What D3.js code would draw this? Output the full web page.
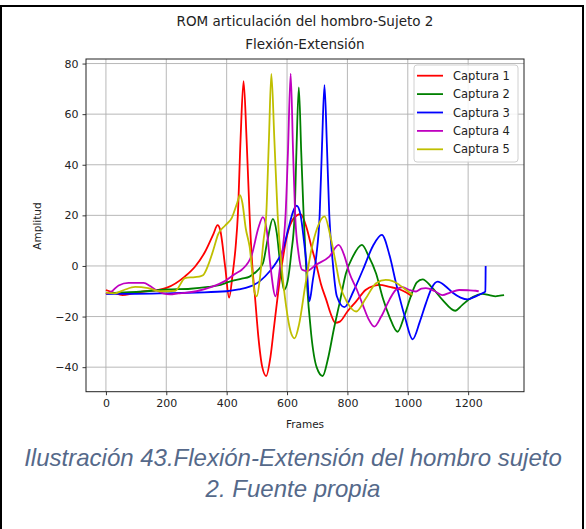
<!DOCTYPE html>
<html>
<head>
<meta charset="utf-8">
<script src="https://cdn.jsdelivr.net/npm/d3@7"></script>
<style>
  html, body { margin: 0; padding: 0; background: #ffffff; }
  svg { display: block; }
</style>
</head>
<body>
<svg id="chart" width="586" height="529"></svg>
<script>
// Shoulder flexion-extension ROM, subject 2: five captures, [frame, amplitude]
const captura1 = [[0,-9.5],[25,-10.5],[55,-11.5],[90,-10.8],[130,-10],[170,-9.5],[200,-8.7],[262,-4.1],[295,-0.3],[328,5.5],[356,12.6],[370,16.1],[378,14.5],[395,-0.3],[408,-12.5],[420,-3],[430,8],[437,20],[446,50],[456,73],[466,50],[476,20],[485,0],[493,-11],[505,-28],[518,-40],[531,-43.5],[545,-36],[557,-24],[570,-11],[585,2],[600,12],[620,18.5],[645,20.5],[665,15],[680,8],[696,1],[712,-7],[730,-13.4],[745,-19],[760,-22.5],[775,-22],[800,-18],[829,-14],[860,-9.5],[890,-7.8],[906,-7.5],[940,-8.3],[972,-9.2],[995,-10.5],[1014,-12]];
const captura2 = [[0,-11],[50,-10.5],[100,-10.3],[202,-9.3],[280,-9],[339,-8.3],[380,-7.5],[410,-6.2],[450,-5],[476,-4.2],[500,-2],[520,1],[535,10],[553,18.6],[566,13],[578,0],[590,-9.5],[602,-6],[614,5],[625,20],[631,45],[639,70.6],[647,45],[655,20],[665,-5],[680,-27],[698,-40],[718,-43.5],[735,-37],[755,-25],[774,-14.7],[795,-3],[818,3.7],[848,8.3],[870,4],[895,-3],[918,-13],[939,-20],[966,-26],[988,-20],[1010,-12],[1030,-6.5],[1049,-5.3],[1080,-8.5],[1115,-13.4],[1157,-17.7],[1180,-15.5],[1203,-13.2],[1230,-11.5],[1247,-11],[1270,-11.5],[1291,-12],[1305,-11.7],[1319,-11.5]];
const captura3 = [[0,-11],[100,-11],[200,-10.8],[300,-10.5],[400,-10],[440,-9.3],[476,-8.2],[510,-6],[542,-2.2],[565,1.5],[586,6.3],[605,15],[620,21.5],[632,23.8],[645,20],[656,10],[665,0],[674,-14],[685,-6],[697,4],[708,20],[716,48],[724,71.5],[732,48],[740,20],[751,2],[765,-12],[790,-16.3],[820,-10],[851,-1.6],[885,8],[914,12.3],[940,4],[961,-6.8],[990,-20],[1016,-29],[1040,-22],[1060,-14.8],[1080,-8.5],[1099,-6.2],[1125,-8],[1148,-10.5],[1175,-12.5],[1198,-13.2],[1225,-12],[1247,-10.8],[1257,-10.1],[1258,0]];
const captura4 = [[0,-11],[20,-10],[42,-7.7],[75,-6.7],[125,-6.7],[145,-7.8],[163,-9.3],[190,-10.8],[213,-11.2],[240,-10.8],[262,-10.6],[300,-10],[350,-8.3],[394,-6],[430,-3],[450,-1.5],[483,4.3],[505,15],[520,19.3],[533,14],[545,0],[562,-12],[575,-2],[595,20],[603,45],[612,76],[620,45],[627,20],[638,5],[650,-1.5],[665,-2],[696,0.5],[740,3.7],[771,8.3],[790,4],[807,-2.9],[830,-9],[851,-15.4],[870,-21],[889,-24],[912,-20],[939,-13.4],[960,-9.5],[983,-8.4],[1005,-9.5],[1027,-10.1],[1045,-9],[1060,-8.8],[1090,-10],[1115,-11.5],[1140,-10.5],[1170,-9.5],[1200,-9.6],[1225,-9.8],[1235,-10]];
const captura5 = [[0,-10.5],[30,-10.8],[60,-9.5],[97,-8.3],[140,-8.8],[180,-10],[230,-9.8],[262,-4.8],[295,-4.4],[315,-4],[323,-3.5],[339,0.4],[355,6],[372,12.6],[395,16],[417,19],[435,25],[444,28],[452,25],[463,15],[476,7.6],[493,-10.7],[500,-12],[510,-5],[522,10],[531,20],[540,50],[548,75.9],[558,50],[569,20],[582,0],[597,-16],[612,-26],[625,-28.6],[640,-23],[660,-8],[680,6],[700,15],[724,19.6],[745,11],[760,2],[774,-6.8],[801,-14.7],[829,-18],[860,-13],[895,-6.8],[927,-5.5],[950,-6],[972,-7.5],[995,-9.5],[1016,-11.5]];

const seriesNames = ["Captura 1", "Captura 2", "Captura 3", "Captura 4", "Captura 5"];
const seriesColors = ["#ff0000", "#008000", "#0000ff", "#bf00bf", "#bfbf00"];
const xTicks = [0, 200, 400, 600, 800, 1000, 1200];
const yTicks = [-40, -20, 0, 20, 40, 60, 80];
const titleLines = ["ROM articulación del hombro-Sujeto 2", "Flexión-Extensión"];
const captionLines = ["Ilustración 43.Flexión-Extensión del hombro sujeto", "2. Fuente propia"];

const allSeries = [captura1, captura2, captura3, captura4, captura5];

const svg = d3.select("#chart");
const plot = { left: 86, right: 524, top: 59, bottom: 391.7 };

const x = d3.scaleLinear().domain([-66, 1385]).range([plot.left, plot.right]);
const y = d3.scaleLinear().domain([-49.7, 81.8]).range([plot.bottom, plot.top]);

// page frame
svg.append("path")
  .attr("d", `M1,529 L1,6 L583,6 L583,529`)
  .attr("fill", "none").attr("stroke", "#000").attr("stroke-width", 2);

// grid
const grid = svg.append("g");
grid.selectAll(".gx").data(xTicks).join("line")
  .attr("x1", d => x(d)).attr("x2", d => x(d))
  .attr("y1", plot.top).attr("y2", plot.bottom)
  .attr("stroke", "#b0b0b0").attr("stroke-width", 0.9);
grid.selectAll(".gy").data(yTicks).join("line")
  .attr("x1", plot.left).attr("x2", plot.right)
  .attr("y1", d => y(d)).attr("y2", d => y(d))
  .attr("stroke", "#b0b0b0").attr("stroke-width", 0.9);

// series
const line = d3.line().x(d => x(d[0])).y(d => y(d[1])).curve(d3.curveMonotoneX);
svg.append("g").selectAll("path").data(allSeries).join("path")
  .attr("d", line)
  .attr("fill", "none")
  .attr("stroke", (d, i) => seriesColors[i])
  .attr("stroke-width", 1.8)
  .attr("stroke-linejoin", "round");

// axes
const font = "'DejaVu Sans', sans-serif";
const xAxis = svg.append("g").attr("transform", `translate(0,${plot.bottom})`)
  .call(d3.axisBottom(x).tickValues(xTicks).tickSize(3.5).tickPadding(4).tickFormat(d3.format("d")));
const yAxis = svg.append("g").attr("transform", `translate(${plot.left},0)`)
  .call(d3.axisLeft(y).tickValues(yTicks).tickSize(3.5).tickPadding(4)
    .tickFormat(d => d < 0 ? "\u2212" + Math.abs(d) : String(d)));
[xAxis, yAxis].forEach(a => {
  a.select(".domain").remove();
  a.selectAll("text").attr("font-family", font).attr("font-size", 11).attr("fill", "#222");
  a.selectAll(".tick line").attr("stroke", "#222").attr("stroke-width", 0.9);
});

// spines
svg.append("rect")
  .attr("x", plot.left).attr("y", plot.top)
  .attr("width", plot.right - plot.left).attr("height", plot.bottom - plot.top)
  .attr("fill", "none").attr("stroke", "#222").attr("stroke-width", 1);

// axis labels
svg.append("text").attr("x", (plot.left + plot.right) / 2).attr("y", 428)
  .attr("text-anchor", "middle").attr("font-family", font).attr("font-size", 10.5)
  .attr("fill", "#222").text("Frames");
svg.append("text").attr("transform", "translate(41,226) rotate(-90)")
  .attr("text-anchor", "middle").attr("font-family", font).attr("font-size", 10.5)
  .attr("fill", "#222").text("Amplitud");

// title
svg.append("g").selectAll("text").data(titleLines).join("text")
  .attr("x", (plot.left + plot.right) / 2)
  .attr("y", (d, i) => 26 + i * 23)
  .attr("text-anchor", "middle").attr("font-family", font).attr("font-size", 13.5)
  .attr("fill", "#222").text(d => d);

// legend
const lg = svg.append("g").attr("transform", "translate(414,65)");
lg.append("rect").attr("width", 104).attr("height", 97).attr("rx", 3)
  .attr("fill", "#fff").attr("fill-opacity", 0.85).attr("stroke", "#d0d0d0");
const rows = lg.selectAll("g").data(seriesNames).join("g")
  .attr("transform", (d, i) => `translate(0,${10.7 + i * 18.4})`);
rows.append("line").attr("x1", 3).attr("x2", 29)
  .attr("stroke", (d, i) => seriesColors[i]).attr("stroke-width", 1.8);
rows.append("text").attr("x", 39).attr("dy", "0.35em")
  .attr("font-family", font).attr("font-size", 11.5).attr("fill", "#222").text(d => d);

// caption
svg.append("g").selectAll("text").data(captionLines).join("text")
  .attr("x", 293)
  .attr("y", (d, i) => 466 + i * 31)
  .attr("text-anchor", "middle")
  .attr("font-family", "'Liberation Sans', Arial, sans-serif")
  .attr("font-style", "italic").attr("font-size", 24)
  .attr("fill", "#55698a").text(d => d);
</script>
</body>
</html>
